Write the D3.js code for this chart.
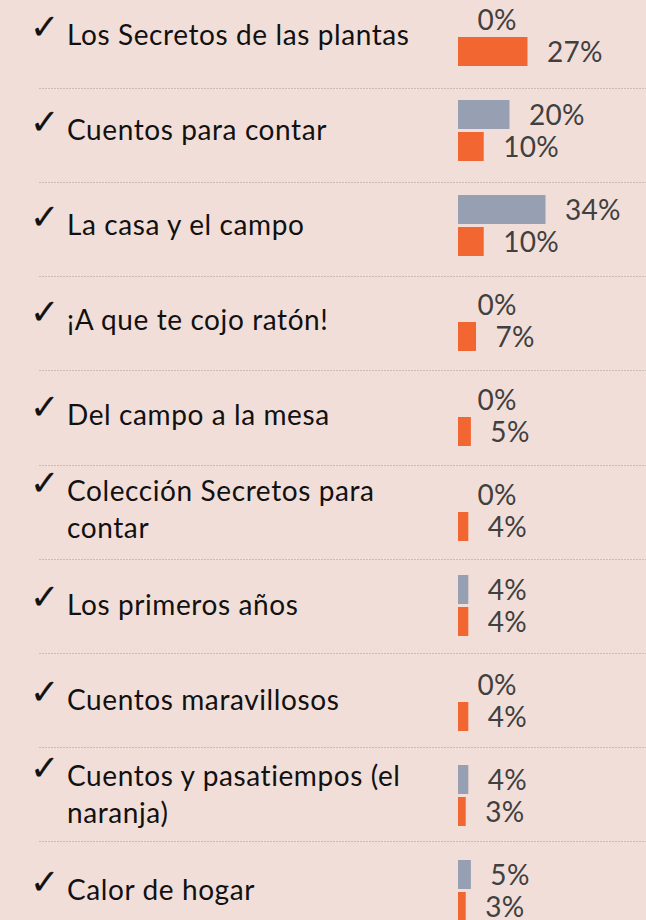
<!DOCTYPE html>
<html><head><meta charset="utf-8">
<script src="https://cdn.jsdelivr.net/npm/d3@7"></script>
<style>
html,body{margin:0;padding:0;background:#f2ded8;}
svg{display:block;}
</style></head>
<body>
<script>
// ---- data ----
const categories = [
  ["Los Secretos de las plantas"],
  ["Cuentos para contar"],
  ["La casa y el campo"],
  ["¡A que te cojo ratón!"],
  ["Del campo a la mesa"],
  ["Colección Secretos para", "contar"],
  ["Los primeros años"],
  ["Cuentos maravillosos"],
  ["Cuentos y pasatiempos (el", "naranja)"],
  ["Calor de hogar"]
];
const seriesNames = ["serieA", "serieB"];
const seriesA = [0, 20, 34, 0, 0, 0, 4, 0, 4, 5];
const seriesB = [27, 10, 10, 7, 5, 4, 4, 4, 3, 3];
const colors = ["#96a0b2", "#f26631"];

// ---- layout ----
const W = 646, H = 920;
const svg = d3.select("body").append("svg").attr("width", W).attr("height", H);
svg.append("rect").attr("width", W).attr("height", H).attr("fill", "#f2ded8");

const idx = d3.range(categories.length);
const y = d3.scaleBand().domain(idx).range([5, 5 + 95 * categories.length]).paddingInner(0).paddingOuter(0);
const ySub = d3.scaleBand().domain(seriesNames).range([0, 61]).paddingInner(3 / 32);
const x = d3.scaleLinear().domain([0, 34]).range([458, 545.5]);

// dividers
const divY = d3.scaleLinear().domain([0, categories.length - 2]).range([88, 841]);
svg.append("g").selectAll("line").data(d3.range(categories.length - 1)).join("line")
  .attr("x1", 39).attr("x2", W)
  .attr("y1", d => Math.round(divY(d)) + 0.5).attr("y2", d => Math.round(divY(d)) + 0.5)
  .attr("stroke", "#c9bcb8").attr("stroke-width", 1).attr("stroke-dasharray", "2,1");

const rows = svg.append("g").selectAll("g").data(idx).join("g")
  .attr("transform", i => `translate(0,${y(i)})`);

const font = "Lato, 'Open Sans', 'DejaVu Sans', sans-serif";

rows.each(function(i) {
  const g = d3.select(this);
  const vals = [seriesA[i], seriesB[i]];
  const center = ySub.range()[1] / 2;
  vals.forEach((v, s) => {
    const name = seriesNames[s];
    if (v > 0) {
      g.append("rect").attr("x", x(0)).attr("y", ySub(name))
        .attr("width", x(v) - x(0)).attr("height", ySub.bandwidth())
        .attr("fill", colors[s]);
    }
    g.append("text").attr("x", x(v) + 19.5).attr("y", ySub(name) + ySub.bandwidth() / 2 + 10)
      .attr("font-family", font).attr("font-size", 28).attr("letter-spacing", 0.3).attr("fill", "#404040")
      .text(v + "%");
  });
  const lines = categories[i];
  const base0 = lines.length === 1 ? center + 9 : center - 10;
  lines.forEach((t, k) => {
    g.append("text").attr("x", 67).attr("y", base0 + k * 37)
      .attr("font-family", font).attr("font-size", 28).attr("letter-spacing", 0.6).attr("fill", "#111")
      .text(t);
  });
  g.append("text").attr("x", 30).attr("y", base0 - 6)
    .attr("font-family", "'DejaVu Sans', sans-serif").attr("font-size", 35).attr("fill", "#111")
    .attr("stroke", "#111").attr("stroke-width", 0.2)
    .text("✓");
});
</script>
</body></html>
